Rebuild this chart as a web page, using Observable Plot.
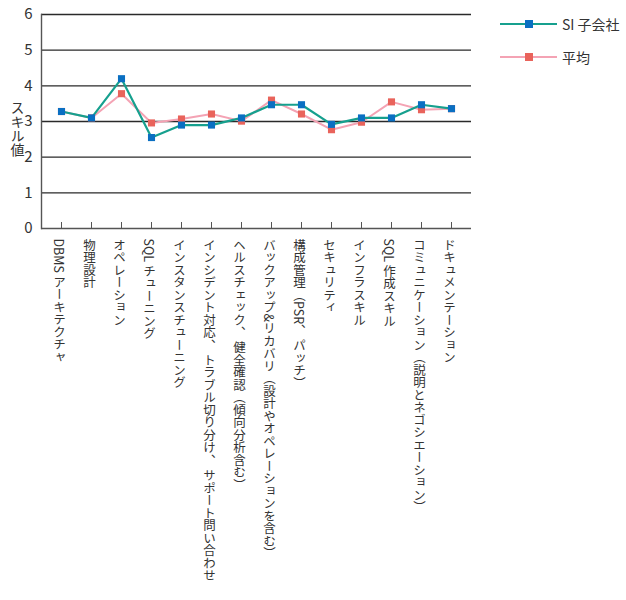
<!DOCTYPE html>
<html><head><meta charset="utf-8">
<script src="https://cdn.jsdelivr.net/npm/d3@7"></script>
<script src="https://cdn.jsdelivr.net/npm/@observablehq/plot@0.6"></script>
<style>
body{margin:0;background:#fff;font-family:"Noto Sans CJK JP",sans-serif;}
#wrap{position:relative;width:626px;height:600px;}
#legend{position:absolute;left:500px;top:14px;font-size:14px;color:#333;}
#legend .row{display:flex;align-items:center;height:20px;margin-bottom:13px;}
#legend svg{margin-right:5px;}
</style></head><body>
<div id="wrap"><div id="legend"></div></div>
<script>
const categories = ["DBMS アーキテクチャ","物理設計","オペレーション","SQL チューニング","インスタンスチューニング","インシデント対応、 トラブル切り分け、 サポート問い合わせ","ヘルスチェック、 健全確認（傾向分析含む）","バックアップ&リカバリ（設計やオペレーションを含む）","構成管理（PSR、 パッチ）","セキュリティ","インフラスキル","SQL 作成スキル","コミュニケーション（説明とネゴシエーション）","ドキュメンテーション"];
const siValues  = [3.28,3.1,4.2,2.55,2.9,2.9,3.1,3.47,3.47,2.92,3.1,3.1,3.47,3.36];
const avgValues = [3.28,3.1,3.78,2.96,3.07,3.21,3.01,3.6,3.21,2.77,2.98,3.55,3.33,3.36];
const yTicks = [0,1,2,3,4,5,6];
const gridTicks = [1,2,3,4,5,6];
const seriesNames = ["SI 子会社","平均"];
const lineColors = ["#16a08e","#f4a3b4"];
const markColors = ["#0a6fc2","#e9635b"];

const si = categories.map((c,i)=>({c, v: siValues[i]}));
const avg = categories.map((c,i)=>({c, v: avgValues[i]}));

function vertical(index, scales, values, dims, ctx, next){
  const g = next(index, scales, values, dims, ctx);
  g.querySelectorAll("text").forEach(t=>{
    t.removeAttribute("y"); t.removeAttribute("dy");
    t.setAttribute("style","writing-mode: vertical-rl;");
    t.setAttribute("text-anchor","start");
  });
  return g;
}

const chart = Plot.plot({
  width: 626, height: 600,
  marginTop: 14, marginBottom: 372, marginLeft: 41, marginRight: 155,
  style: {fontFamily: '"Noto Sans CJK JP", sans-serif', background: "#fff"},
  x: {type: "point", domain: categories, padding: 0.5},
  y: {domain: [0,6]},
  marks: [
    Plot.ruleY(gridTicks, {stroke: "#2a2a2a", strokeWidth: 1.4}),
    Plot.ruleY([0], {stroke: "#555", strokeWidth: 1.4}),
    Plot.frame({anchor: "left", stroke: "#555", strokeWidth: 1.4}),
    Plot.axisY(yTicks, {tickSize: 0, tickPadding: 9, fontSize: 15, fill: "#333", label: null}),
    Plot.axisX({tickSize: 6, dy: -6, text: null, stroke: "#555", label: null}),
    Plot.text(categories, {x: d=>d, frameAnchor: "bottom", dx: -2, dy: 10, fontSize: 12.5, fill: "#333", render: vertical}),
    Plot.text(["スキル値"], {frameAnchor: "top-left", dx: -24, dy: 86, fontSize: 14, fill: "#333", render: vertical}),
    Plot.line(avg, {x: "c", y: "v", stroke: lineColors[1], strokeWidth: 2}),
    Plot.dot(avg, {x: "c", y: "v", symbol: "square", r: 4, fill: markColors[1]}),
    Plot.line(si, {x: "c", y: "v", stroke: lineColors[0], strokeWidth: 2.2}),
    Plot.dot(si, {x: "c", y: "v", symbol: "square", r: 4, fill: markColors[0]})
  ]
});
document.getElementById("wrap").prepend(chart);

const legend = document.getElementById("legend");
seriesNames.forEach((name,i)=>{
  const row = document.createElement("div");
  row.className = "row";
  row.innerHTML = `<svg width="57" height="10"><line x1="0" x2="57" y1="5" y2="5" stroke="${lineColors[i]}" stroke-width="2"/><rect x="25" y="1" width="8" height="8" fill="${markColors[i]}"/></svg><span>${name}</span>`;
  legend.appendChild(row);
});
</script>
</body></html>
